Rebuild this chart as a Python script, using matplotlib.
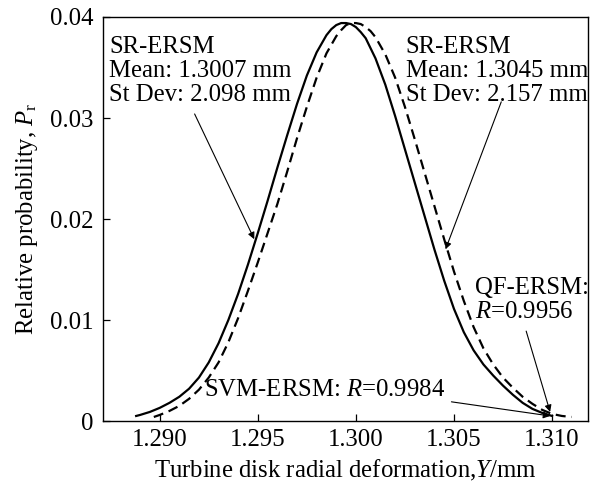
import matplotlib
matplotlib.use("Agg")
import matplotlib.pyplot as plt

plt.rcParams['font.family'] = ['Liberation Serif', 'DejaVu Serif']
plt.rcParams['mathtext.fontset'] = 'custom'
plt.rcParams['mathtext.rm'] = 'Liberation Serif'
plt.rcParams['mathtext.it'] = 'Liberation Serif:italic'

# Solid curve (SR-ERSM, mean 1.3007)
solid_x = [1.2888, 1.2890, 1.2895, 1.2900, 1.2905, 1.2910, 1.2915, 1.2920, 1.2925,
           1.2930, 1.2935, 1.2940, 1.2945, 1.2950, 1.2955, 1.2960, 1.2965, 1.2970,
           1.2975, 1.2980, 1.2985, 1.29875, 1.2990, 1.29925, 1.2995, 1.29975,
           1.3000, 1.30025, 1.3005, 1.3010, 1.3015, 1.3020, 1.3025, 1.3030, 1.3035,
           1.3040, 1.3045, 1.3050, 1.3055, 1.3060, 1.3065, 1.3070, 1.3075, 1.3080,
           1.3085, 1.3090, 1.3095, 1.3100]
solid_y = [0.0005, 0.0006, 0.0009, 0.0013, 0.0018, 0.0024, 0.0032, 0.0043, 0.0058,
           0.0077, 0.0100, 0.0126, 0.0155, 0.0186, 0.0218, 0.0251, 0.0283, 0.0314,
           0.0342, 0.0365, 0.0382, 0.0388, 0.0392, 0.0394, 0.0394, 0.0393,
           0.0390, 0.0385, 0.0379, 0.0359, 0.0333, 0.0302, 0.0269, 0.0236, 0.0203,
           0.0170, 0.0139, 0.0111, 0.0088, 0.0070, 0.0056, 0.0045, 0.0035, 0.0026,
           0.0018, 0.0012, 0.0008, 0.0005]

# Dashed curve (SR-ERSM, mean 1.3045)
dash_x = [1.2897, 1.2900, 1.2905, 1.2910, 1.2915, 1.2920, 1.2925, 1.2930, 1.2935,
          1.2940, 1.2945, 1.2950, 1.2955, 1.2960, 1.2965, 1.2970, 1.2975, 1.2980,
          1.2985, 1.2990, 1.29925, 1.2995, 1.29975, 1.3000, 1.30025, 1.3005,
          1.30075, 1.3010, 1.3015, 1.3020, 1.3025, 1.3030, 1.3035, 1.3040, 1.3045,
          1.3050, 1.3055, 1.3060, 1.3065, 1.3070, 1.3075, 1.3080, 1.3085, 1.3090,
          1.3095, 1.3100, 1.3105, 1.3110]
dash_y = [0.0004, 0.0006, 0.0010, 0.0015, 0.0022, 0.0031, 0.0043, 0.0058, 0.0078,
          0.0102, 0.0129, 0.0157, 0.0186, 0.0215, 0.0247, 0.0280, 0.0311, 0.0340,
          0.0364, 0.0381, 0.0387, 0.0392, 0.0394, 0.0394, 0.0393, 0.0390,
          0.0386, 0.0380, 0.0363, 0.0340, 0.0311, 0.0279, 0.0246, 0.0213, 0.0180,
          0.0148, 0.0119, 0.0093, 0.0072, 0.0056, 0.0043, 0.0033, 0.0024, 0.0017,
          0.0011, 0.0007, 0.0005, 0.0004]

xticks = [1.290, 1.295, 1.300, 1.305, 1.310]
xtick_labels = ["1.290", "1.295", "1.300", "1.305", "1.310"]
yticks = [0, 0.01, 0.02, 0.03, 0.04]
ytick_labels = ["0", "0.01", "0.02", "0.03", "0.04"]

fs = 17.8

fig = plt.figure(figsize=(5.95, 4.87), dpi=100)
ax = fig.add_axes([0.1731, 0.1355, 0.9882 - 0.1731, 0.9651 - 0.1355])

ax.plot(solid_x, solid_y, color='black', lw=1.6, solid_joinstyle='round')
ln, = ax.plot(dash_x, dash_y, color='black', lw=1.6)
ln.set_dashes((4.5, 2.6))

ax.set_xlim(1.28711, 1.31183)
ax.set_ylim(0, 0.04)
ax.set_xticks(xticks)
ax.set_xticklabels(xtick_labels)
ax.set_yticks(yticks)
ax.set_yticklabels(ytick_labels)
ax.tick_params(direction='in', length=5, width=0.9, labelsize=fs)
ax.tick_params(axis='x', pad=6)
ax.tick_params(axis='y', pad=7)
for s in ax.spines.values():
    s.set_linewidth(1.0)

ax.set_xlabel("Turbine disk radial deformation,$\\mathit{Y}$/mm", fontsize=fs, labelpad=5)
ax.set_ylabel("Relative probability, $\\mathit{P}_\\mathrm{r}$", fontsize=fs, labelpad=7)

arrow = dict(arrowstyle='-|>', color='black', lw=0.8, mutation_scale=10,
             shrinkA=0, shrinkB=0)

ax.text(1.28741, 0.0381, "SR-ERSM\nMean: 1.3007 mm\nSt Dev: 2.098 mm",
        fontsize=fs, va='top', ha='left', linespacing=1.12)
ax.annotate("", xy=(1.29482, 0.0180), xytext=(1.29178, 0.0304), arrowprops=arrow)

ax.text(1.30254, 0.0381, "SR-ERSM\nMean: 1.3045 mm\nSt Dev: 2.157 mm",
        fontsize=fs, va='top', ha='left', linespacing=1.12)
ax.annotate("", xy=(1.30457, 0.0170), xytext=(1.30741, 0.0316), arrowprops=arrow)

ax.text(1.30609, 0.0143, "QF-ERSM:\n$\\mathit{R}$=0.9956",
        fontsize=fs, va='top', ha='left', linespacing=1.12)
ax.annotate("", xy=(1.30990, 0.0009), xytext=(1.30868, 0.0089), arrowprops=arrow)

ax.text(1.29228, 0.0025, "SVM-ERSM: $\\mathit{R}$=0.9984",
        fontsize=fs, va='baseline', ha='left')
ax.annotate("", xy=(1.30990, 0.0005), xytext=(1.30487, 0.0019), arrowprops=arrow)

fig.savefig("out.png", dpi=100)
